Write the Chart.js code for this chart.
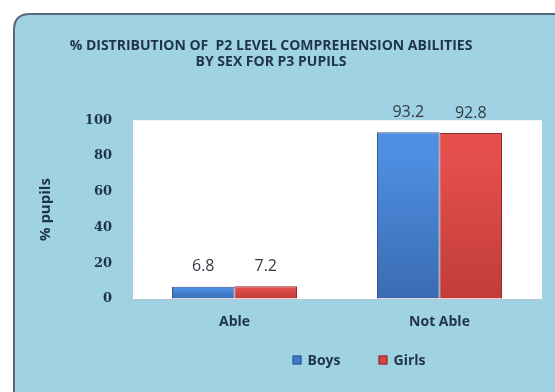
<!DOCTYPE html>
<html>
<head>
<meta charset="utf-8">
<script src="https://cdn.jsdelivr.net/npm/chart.js@4.4.1/dist/chart.umd.min.js"></script>
<style>
  html, body { margin: 0; padding: 0; background: #ffffff; }
  #wrap { width: 555px; height: 392px; }
</style>
</head>
<body>
<div id="wrap"><canvas id="c" width="555" height="392"></canvas></div>
<script>
// Comprehension categories and percentage of pupils per sex
const categories = ['Able', 'Not Able'];
const boys = [6.8, 93.2];
const girls = [7.2, 92.8];
const yTicks = [0, 20, 40, 60, 80, 100];
const titleLines = ['% DISTRIBUTION OF  P2 LEVEL COMPREHENSION ABILITIES', 'BY SEX FOR P3 PUPILS'];
const yTitle = '% pupils';

const SANS = "'Open Sans', 'Noto Sans', sans-serif";
const SERIF = "'DejaVu Serif', 'Liberation Serif', serif";
const INK = '#1f3446';
const SWATCH = ['#3f78c8', '#d34543'];
const SWATCH_EDGE = ['#2e5790', '#8e2c2a'];

// vertical gradient for a bar, built from its own value on the y scale
function barFill(ctx, top, bottom) {
  const chart = ctx.chart;
  const y = chart.scales.y;
  if (!y || !ctx.parsed) return top;
  const y0 = y.getPixelForValue(0);
  const y1 = y.getPixelForValue(ctx.parsed.y);
  if (!isFinite(y0) || !isFinite(y1) || y0 === y1) return top;
  const g = chart.ctx.createLinearGradient(0, y1, 0, y0);
  g.addColorStop(0, top);
  g.addColorStop(0.12, top);
  g.addColorStop(1, bottom);
  return g;
}

// rounded light-blue panel behind everything, white plot area
const panel = {
  id: 'panel',
  beforeDraw(chart) {
    const c = chart.ctx;
    c.save();
    c.fillStyle = '#ffffff';
    c.fillRect(0, 0, chart.width, chart.height);
    const x = 14, y = 14, w = 570, h = 400, r = 16;
    c.beginPath();
    c.moveTo(x + r, y);
    c.lineTo(x + w, y);
    c.lineTo(x + w, y + h);
    c.lineTo(x, y + h);
    c.lineTo(x, y + r);
    c.quadraticCurveTo(x, y, x + r, y);
    c.closePath();
    c.fillStyle = '#9fd3e3';
    c.fill();
    c.lineWidth = 2;
    c.strokeStyle = '#56687a';
    c.stroke();
    const a = chart.chartArea;
    c.fillStyle = '#ffffff';
    c.fillRect(a.left, a.top, a.right - a.left, a.bottom - a.top);
    c.restore();
  }
};

// value labels above each bar
const valueLabels = {
  id: 'valueLabels',
  afterDatasetsDraw(chart) {
    const c = chart.ctx;
    c.save();
    c.font = "16px " + SANS;
    c.fillStyle = '#333b42';
    c.textAlign = 'center';
    c.textBaseline = 'middle';
    chart.data.datasets.forEach((ds, i) => {
      chart.getDatasetMeta(i).data.forEach((bar, j) => {
        c.fillText(ds.data[j].toFixed(1), bar.x, bar.y - 20);
      });
    });
    c.restore();
  }
};

// series key below the category axis
const seriesKey = {
  id: 'seriesKey',
  afterDraw(chart) {
    const c = chart.ctx;
    const a = chart.chartArea;
    const box = 9, gapText = 6, gapItem = 38, y = 360;
    c.save();
    c.font = "bold 14px " + SANS;
    c.textBaseline = 'middle';
    c.textAlign = 'left';
    const items = chart.data.datasets.map((ds, i) => ({ text: ds.label, i, w: box + gapText + c.measureText(ds.label).width }));
    const total = items.reduce((s, it) => s + it.w, 0) + gapItem * (items.length - 1);
    let x = (a.left + a.right) / 2 + 22 - total / 2;
    items.forEach(it => {
      c.fillStyle = SWATCH[it.i];
      c.fillRect(x, y - box / 2, box, box);
      c.strokeStyle = SWATCH_EDGE[it.i];
      c.lineWidth = 1;
      c.strokeRect(x + 0.5, y - box / 2 + 0.5, box - 1, box - 1);
      c.fillStyle = INK;
      c.fillText(it.text, x + box + gapText, y + 1);
      x += it.w + gapItem;
    });
    c.restore();
  }
};

new Chart(document.getElementById('c'), {
  type: 'bar',
  data: {
    labels: categories,
    datasets: [
      {
        label: 'Boys',
        data: boys,
        backgroundColor: ctx => barFill(ctx, '#4f8fe2', '#3a6bb2'),
        borderColor: '#2e5790',
        borderWidth: 1,
        borderSkipped: 'bottom'
      },
      {
        label: 'Girls',
        data: girls,
        backgroundColor: ctx => barFill(ctx, '#e5504d', '#c13c3a'),
        borderColor: '#8e2c2a',
        borderWidth: 1,
        borderSkipped: 'bottom'
      }
    ]
  },
  options: {
    responsive: false,
    animation: false,
    devicePixelRatio: 1,
    layout: { padding: { top: 38, right: 13, left: 0, bottom: 53 } },
    datasets: { bar: { categoryPercentage: 0.61, barPercentage: 1.0 } },
    plugins: {
      title: {
        display: true,
        text: titleLines,
        color: INK,
        font: { family: SANS, size: 14, weight: 'bold', lineHeight: 1.15 },
        padding: { top: 0, bottom: 50 }
      },
      legend: { display: false },
      tooltip: { enabled: false }
    },
    scales: {
      x: {
        grid: { display: false, drawTicks: false },
        border: { color: '#b9c8cf' },
        ticks: {
          color: INK,
          font: { family: SANS, size: 14, weight: 'bold' },
          padding: 15,
          autoSkip: false,
          maxRotation: 0
        },
        afterFit(scale) { scale.height = 40; }
      },
      y: {
        min: 0,
        max: 100,
        afterBuildTicks(scale) { scale.ticks = yTicks.map(v => ({ value: v })); },
        grid: { drawOnChartArea: false, drawTicks: true, tickLength: 5, color: '#b9c8cf' },
        border: { color: '#b9c8cf' },
        ticks: {
          color: INK,
          font: { family: SERIF, size: 13, weight: 'bold' },
          padding: 15
        },
        title: {
          display: true,
          text: yTitle,
          color: INK,
          font: { family: SANS, size: 15, weight: 'bold' },
          padding: { top: 37, bottom: 0 }
        },
        afterFit(scale) { scale.width = 132; }
      }
    }
  },
  plugins: [panel, valueLabels, seriesKey]
});
</script>
</body>
</html>
